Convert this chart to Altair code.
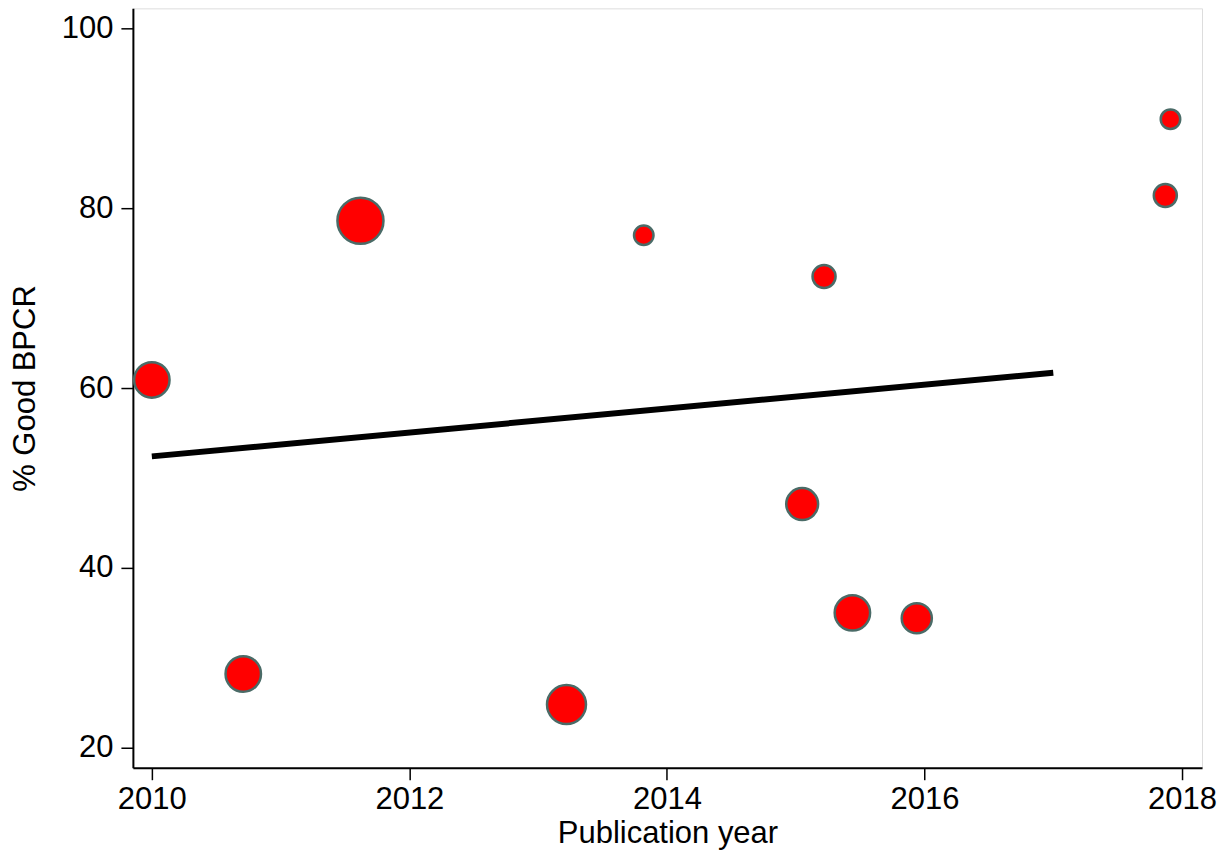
import altair as alt
import pandas as pd
import math

years = [2010.0, 2010.71, 2011.62, 2013.22, 2013.82, 2015.05, 2015.22, 2015.44, 2015.94, 2017.87, 2017.91]
good_bpcr = [60.9, 28.2, 78.6, 24.8, 77.0, 47.1, 72.4, 35.0, 34.4, 81.4, 89.9]
radius_px = [20, 20, 26, 22, 11, 18, 13, 20, 17, 13, 11]

fit_years = [2010.0, 2017.0]
fit_values = [52.4, 61.7]

pts = pd.DataFrame({
    "year": years,
    "bpcr": good_bpcr,
    "area": [math.pi * r * r for r in radius_px],
})
fit = pd.DataFrame({"year": fit_years, "bpcr": fit_values})

xscale = alt.Scale(domain=[2009.853, 2018.155], nice=False, zero=False)
yscale = alt.Scale(domain=[17.78, 102.22], nice=False, zero=False)

FS = 31
xaxis = alt.Axis(values=[2010, 2012, 2014, 2016, 2018], format="d", title="Publication year",
                 grid=False, tickSize=12, tickWidth=1.5, tickColor="black",
                 domainColor="black", domainWidth=2, labelFontSize=FS, titleFontSize=FS,
                 labelFont="Liberation Sans", titleFont="Liberation Sans", titleFontWeight="normal",
                 labelColor="black", titleColor="black", labelPadding=5, titlePadding=4)
yaxis = alt.Axis(values=[20, 40, 60, 80, 100], title="% Good BPCR",
                 grid=False, tickSize=12, tickWidth=1.5, tickColor="black",
                 domainColor="black", domainWidth=2, labelFontSize=FS, titleFontSize=FS,
                 labelFont="Liberation Sans", titleFont="Liberation Sans", titleFontWeight="normal",
                 labelColor="black", titleColor="black", labelPadding=8, titlePadding=20)

points = alt.Chart(pts).mark_circle(opacity=1, color="#ff0000", stroke="#4a6b67", strokeWidth=2.5).encode(
    x=alt.X("year:Q", scale=xscale, axis=xaxis),
    y=alt.Y("bpcr:Q", scale=yscale, axis=yaxis),
    size=alt.Size("area:Q", scale=None, legend=None),
)

line = alt.Chart(fit).mark_line(color="black", strokeWidth=6).encode(
    x=alt.X("year:Q", scale=xscale),
    y=alt.Y("bpcr:Q", scale=yscale),
)

chart = alt.layer(line, points).properties(
    width=1070, height=760,
    autosize=alt.AutoSizeParams(type="none"),
    padding={"left": 125, "top": 0, "right": 20, "bottom": 82},
).configure_view(stroke="black", strokeWidth=2).configure(background="white")

chart.save("out.html", embed_options={"renderer": "svg", "actions": False})
